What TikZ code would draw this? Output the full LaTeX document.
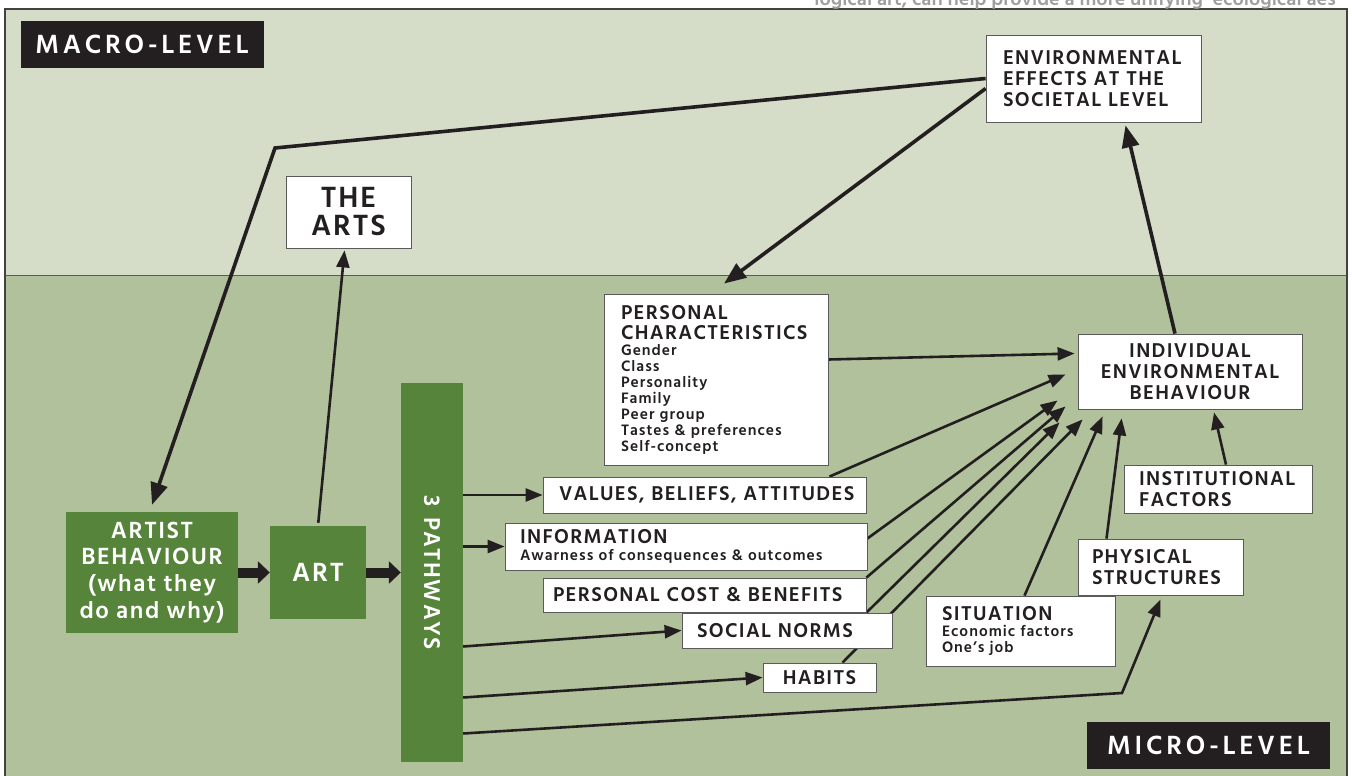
\documentclass[tikz,border=0pt]{standalone}
\usepackage{fontspec}
\setmainfont{Hind Siliguri}[UprightFont=* SemiBold, BoldFont=* Bold, LetterSpace=6.5]
\usepackage{tikz}
\usetikzlibrary{arrows.meta, positioning, calc}

\definecolor{macrobg}{HTML}{D5DCC8}
\definecolor{microbg}{HTML}{B1C19C}
\definecolor{artgreen}{HTML}{56843A}
\definecolor{inkblack}{HTML}{231F20}
\definecolor{boxline}{HTML}{5A5A5A}

\pgfdeclarelayer{bands}
\pgfdeclarelayer{wires}
\pgfsetlayers{bands,wires,main}

\newcommand{\capsize}{\fontsize{20.5}{21}\selectfont}
\newcommand{\listsize}{\fontsize{15.5}{16}\selectfont}

\tikzstyle{factor} = [rectangle, draw=boxline, line width=0.8pt, fill=white, text=inkblack, inner sep=0pt, align=left, font=\capsize]
\tikzstyle{greenbox} = [rectangle, fill=artgreen, text=white, inner sep=0pt, align=center]
\tikzstyle{levelbox} = [rectangle, fill=inkblack, text=white, inner sep=0pt, minimum width=243pt, minimum height=47pt, font=\fontsize{27}{28}\selectfont\addfontfeature{LetterSpace=14}]
\tikzstyle{arrow} = [draw=inkblack, line width=2.6pt, -{Triangle[length=17pt,width=13pt]}]
\tikzstyle{bigarrow} = [draw=inkblack, line width=3.6pt, -{Triangle[length=22pt,width=17pt]}]
\tikzstyle{blockarrow} = [draw=inkblack, line width=10pt, -{Triangle[length=12pt,width=22pt]}]

\begin{document}
\begin{tikzpicture}[x=1pt, y=-1pt]
\useasboundingbox (0,0) rectangle (1352,776);

% the two levels
\begin{pgfonlayer}{bands}
    \fill[white] (0,0) rectangle (1352,776);
    \fill[macrobg] (5,9) rectangle (1347,275);
    \fill[microbg] (5,275) rectangle (1347,776);
    \draw[boxline, line width=0.8pt] (5,275) -- (1347,275);
    \draw[inkblack!85, line width=1.5pt] (5,776) -- (5,9) -- (1347,9) -- (1347,776);
    \begin{scope}
        \clip (600,0) rectangle (1352,8.3);
        \node[anchor=base east, inner sep=0pt, text=gray!75, font=\fontsize{20}{22}\selectfont\addfontfeature{LetterSpace=0}] (runningtext) at (1336,6) {logical art, can help provide a more unifying ‘ecological aes};
    \end{scope}
\end{pgfonlayer}

\node[levelbox] (macro) at (142,44.5) {MACRO-LEVEL};
\node[levelbox] (micro) at (1208.5,745.5) {MICRO-LEVEL};

% macro level
\node[factor, align=center, minimum width=125pt, minimum height=72pt, font=\fontsize{30}{28}\selectfont] (arts) at (348.5,212) {THE\\ARTS};
\node[factor, minimum width=215pt, minimum height=87pt, text width=181pt] (societal) at (1093.5,78.5) {ENVIRONMENTAL\\EFFECTS AT THE\\SOCIETAL LEVEL};

% artist side
\node[greenbox, minimum width=172pt, minimum height=121pt, font=\fontsize{24}{26.7}\selectfont] (artist) at (152,572.5) {ARTIST\\BEHAVIOUR\\(what they\\do and why)};
\node[greenbox, minimum width=96pt, minimum height=93pt, font=\fontsize{27}{26}\selectfont] (art) at (318,572.5) {ART};
\node[greenbox, minimum width=62pt, minimum height=379pt, font=\fontsize{23.5}{26}\selectfont] (pathways) at (432,572.5) {\rotatebox{-90}{3\hspace{0.45em}PATHWAYS}};

% factors
\node[factor, minimum width=224pt, minimum height=171pt, text width=190pt, font=\listsize] (personal) at (716,379.5) {{\capsize PERSONAL}\\[4pt]{\capsize CHARACTERISTICS}\\Gender\\Class\\Personality\\Family\\Peer group\\Tastes \& preferences\\Self-concept};
\node[factor, minimum width=323pt, minimum height=36pt, text width=291pt] (values) at (704.5,495) {VALUES, BELIEFS, ATTITUDES};
\node[factor, minimum width=362pt, minimum height=47pt, text width=332pt, font=\listsize] (info) at (686,546.5) {{\capsize INFORMATION}\\[1.5pt]Awarness of consequences \& outcomes};
\node[factor, minimum width=323pt, minimum height=34pt, text width=303pt] (cost) at (704.5,595) {PERSONAL COST \& BENEFITS};
\node[factor, minimum width=210pt, minimum height=35pt, text width=180pt] (norms) at (787,630.5) {SOCIAL NORMS};
\node[factor, align=center, minimum width=113pt, minimum height=29pt] (habits) at (819.5,677.5) {HABITS};
\node[factor, minimum width=189pt, minimum height=70pt, text width=157pt, font=\listsize] (situation) at (1020.5,631) {{\capsize SITUATION}\\Economic factors\\One’s job};
\node[factor, minimum width=165pt, minimum height=56pt, text width=137pt] (physical) at (1160.5,567) {PHYSICAL\\STRUCTURES};
\node[factor, minimum width=188pt, minimum height=48pt, text width=158pt] (institutional) at (1218,489) {INSTITUTIONAL\\FACTORS};
\node[factor, align=center, minimum width=224pt, minimum height=75pt] (individual) at (1190,371.5) {INDIVIDUAL\\ENVIRONMENTAL\\BEHAVIOUR};

\coordinate (bend) at (275,148);
\coordinate (kink) at (1122,693);

\begin{pgfonlayer}{wires}
    % feedback through the societal level
    \draw[bigarrow, line join=miter] (societal.west) -- (bend) -- ([yshift=7pt]artist.north);
    \draw[bigarrow] ([yshift=-10pt]societal.west) -- ([xshift=8pt,yshift=10pt]personal.north);
    \draw[bigarrow] ([xshift=-15pt]individual.north) -- ([xshift=32pt,yshift=-3pt]societal.south);
    \draw[arrow, shorten <=3pt] (art.north) -- ([xshift=-4pt,yshift=-2pt]arts.south);

    \draw[blockarrow] (artist.east) -- (art.west);
    \draw[blockarrow] (art.east) -- (pathways.west);

    % the three pathways
    \draw[arrow] (pathways.east |- values) -- (values.west);
    \draw[arrow] (pathways.east |- info) -- (info.west);
    \draw[arrow] ([yshift=-74pt]pathways.east) -- (norms.west);
    \draw[arrow] ([yshift=-125pt]pathways.east) -- (habits.west);
    \draw[arrow, line join=miter] ([yshift=-161pt]pathways.east) -- (kink) -- ([yshift=-4pt]physical.south);

    % everything feeds individual behaviour
    \draw[arrow] ([yshift=20pt]personal.east) -- ([xshift=-3pt,yshift=18pt]individual.west);
    \draw[arrow] ([xshift=-37pt]values.north east) -- ([xshift=-12pt,yshift=35pt]individual.south west);
    \draw[arrow] ([yshift=8pt]info.east) -- ([xshift=-20pt,yshift=9pt]individual.south west);
    \draw[arrow] (cost.north east) -- ([xshift=-12pt,yshift=3pt]individual.south west);
    \draw[arrow] ([xshift=-26pt]norms.north east) -- ([xshift=-18pt,yshift=-13pt]individual.south west);
    \draw[arrow] ([xshift=23pt]habits.north) -- ([xshift=5pt,yshift=-10pt]individual.south west);
    \draw[arrow] ([xshift=4pt]situation.north) -- ([xshift=25pt,yshift=-7pt]individual.south west);
    \draw[arrow] ([xshift=-54pt]physical.north) -- ([xshift=44pt,yshift=-9pt]individual.south west);
    \draw[arrow] ([xshift=8pt]institutional.north) -- ([xshift=24pt,yshift=-3pt]individual.south);
\end{pgfonlayer}
\end{tikzpicture}
\end{document}
